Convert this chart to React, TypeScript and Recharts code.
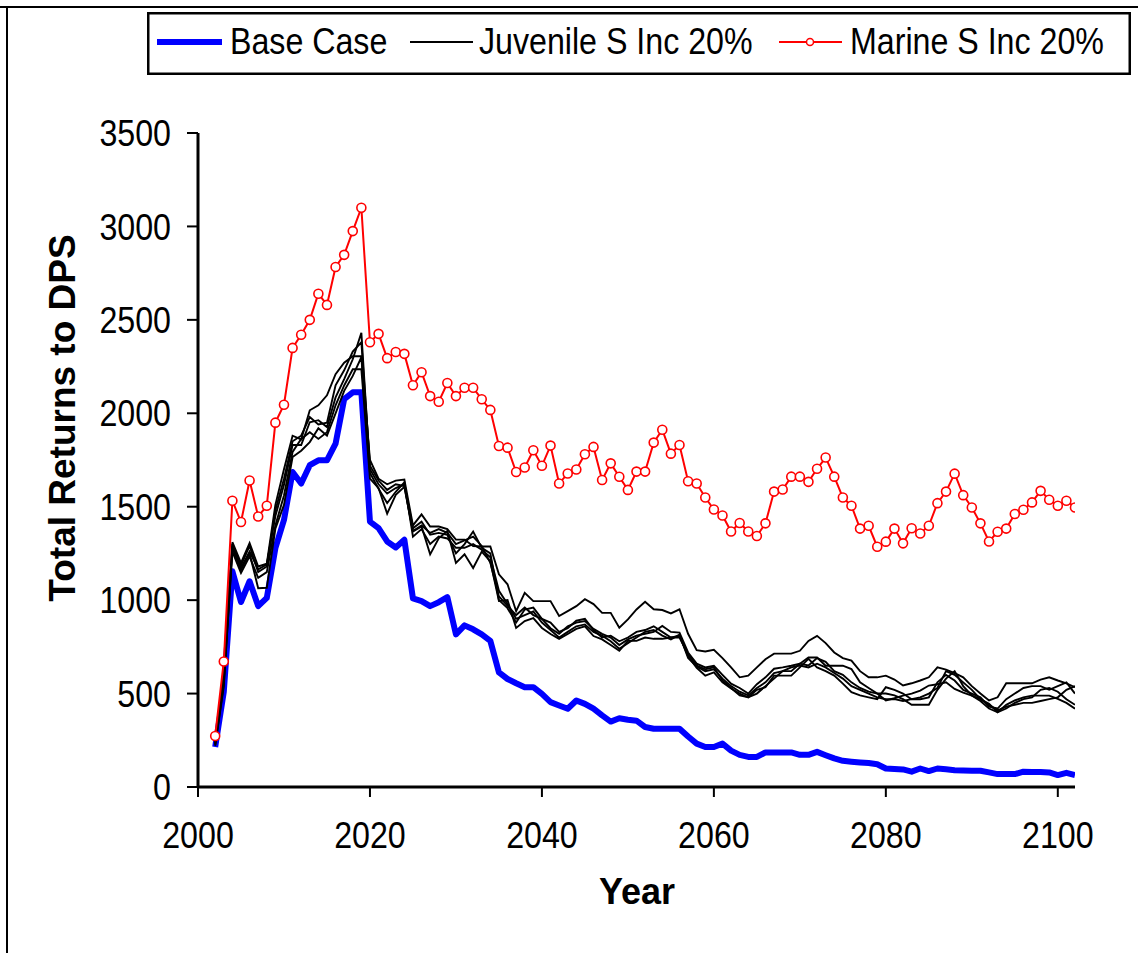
import React from 'react';
import { LineChart, Line, XAxis, YAxis, Legend, Label } from 'recharts';

const years: number[] = Array.from({ length: 101 }, (_, i) => 2002 + i);

const baseCase: number[] = [
  214, 510, 1154, 990, 1101, 968, 1012, 1278, 1429, 1686,
  1624, 1722, 1748, 1748, 1837, 2076, 2112, 2112, 1420, 1385,
  1314, 1282, 1323, 1009, 995, 968, 989, 1016, 817, 865,
  844, 817, 782, 613, 578, 555, 534, 534, 498, 454,
  436, 419, 463, 445, 419, 383, 350, 368, 360, 355,
  321, 312, 312, 312, 312, 270, 232, 214, 214, 232,
  195, 172, 161, 161, 185, 185, 185, 185, 172, 172,
  188, 170, 153, 140, 135, 131, 128, 122, 99, 96,
  94, 82, 99, 85, 99, 95, 90, 88, 87, 87,
  78, 69, 69, 69, 82, 80, 80, 78, 64, 76,
  64,
];

const juvenile1: number[] = [
  240, 600, 1310, 1200, 1305, 1180, 1195, 1510, 1700, 1880,
  1860, 2016, 2043, 2096, 2209, 2271, 2305, 2305, 1750, 1650,
  1620, 1640, 1645, 1400, 1459, 1394, 1394, 1380, 1324, 1324,
  1290, 1287, 1287, 1138, 1085, 941, 1039, 995, 995, 995,
  915, 941, 968, 1005, 979, 932, 932, 853, 897, 950,
  991, 951, 947, 929, 951, 820, 732, 725, 734, 690,
  640, 587, 596, 640, 684, 714, 714, 714, 729, 782,
  809, 770, 720, 690, 676, 620, 587, 587, 596, 575,
  543, 555, 570, 587, 640, 628, 610, 587, 540, 500,
  463, 480, 555, 555, 555, 555, 575, 587, 570, 555,
  534,
];

const juvenile2: number[] = [
  230, 570, 1290, 1172, 1260, 1165, 1191, 1450, 1617, 1830,
  1830, 1952, 1963, 1926, 2085, 2183, 2289, 2431, 1700, 1620,
  1570, 1600, 1620, 1385, 1420, 1350, 1360, 1350, 1250, 1300,
  1367, 1280, 1250, 1000, 957, 880, 950, 960, 900, 850,
  820, 860, 880, 888, 846, 820, 800, 760, 790, 810,
  820, 830, 862, 830, 826, 720, 660, 640, 649, 600,
  553, 530, 500, 550, 587, 633, 640, 649, 660, 693,
  693, 649, 649, 649, 631, 560, 530, 500, 463, 475,
  489, 500, 516, 543, 550, 560, 525, 505, 489, 470,
  445, 400, 440, 463, 480, 489, 489, 489, 472, 450,
  419,
];

const juvenile3: number[] = [
  225, 550, 1260, 1145, 1234, 1119, 1150, 1400, 1560, 1793,
  1863, 1899, 1863, 1899, 2043, 2149, 2236, 2236, 1650, 1600,
  1463, 1564, 1606, 1367, 1394, 1245, 1331, 1370, 1199, 1245,
  1172, 1260, 1207, 995, 1000, 851, 888, 904, 851, 819,
  793, 819, 846, 860, 808, 790, 760, 729, 782, 782,
  800, 793, 793, 800, 809, 700, 638, 596, 613, 560,
  527, 500, 480, 520, 534, 596, 596, 596, 640, 686,
  640, 620, 596, 553, 507, 490, 480, 470, 534, 520,
  500, 470, 470, 480, 560, 600, 570, 520, 500, 480,
  430, 420, 470, 500, 530, 540, 540, 520, 540, 560,
  500,
];

const juvenile4: number[] = [
  220, 540, 1280, 1160, 1250, 1064, 1066, 1383, 1510, 1766,
  1800, 1846, 1920, 1880, 2000, 2120, 2200, 2300, 1680, 1596,
  1520, 1580, 1630, 1340, 1380, 1300, 1340, 1330, 1280, 1280,
  1300, 1270, 1230, 1050, 980, 900, 920, 940, 880, 840,
  800, 830, 860, 870, 830, 810, 780, 740, 770, 800,
  830, 840, 810, 790, 815, 690, 645, 620, 630, 580,
  540, 510, 490, 530, 560, 610, 620, 620, 660, 650,
  690, 670, 620, 600, 560, 530, 510, 500, 500, 490,
  470, 440, 440, 440, 520, 580, 620, 540, 490, 460,
  420, 400, 420, 450, 470, 480, 520, 530, 510, 470,
  440,
];

const juvenile5: number[] = [
  235, 580, 1300, 1185, 1290, 1150, 1180, 1480, 1650, 1850,
  1880, 1980, 1940, 1950, 2150, 2230, 2330, 2380, 1720, 1640,
  1590, 1620, 1610, 1370, 1400, 1360, 1380, 1360, 1300, 1320,
  1340, 1290, 1200, 1020, 970, 920, 960, 920, 900, 880,
  830, 850, 890, 900, 840, 800, 810, 780, 800, 830,
  840, 860, 830, 800, 800, 710, 650, 630, 640, 570,
  530, 490, 480, 500, 540, 580, 620, 640, 650, 640,
  660, 640, 610, 580, 540, 520, 500, 480, 470, 470,
  460, 470, 480, 500, 530, 620, 600, 560, 520, 470,
  440, 410, 430, 440, 450, 450, 460, 470, 480, 520,
  540,
];

const marine: number[] = [
  273, 672, 1532, 1418, 1640, 1448, 1505, 1950, 2046, 2350,
  2420, 2500, 2640, 2580, 2783, 2848, 2975, 3100, 2380, 2425,
  2295, 2328, 2318, 2150, 2220, 2092, 2062, 2162, 2092, 2137,
  2137, 2075, 2018, 1825, 1816, 1686, 1710, 1802, 1719, 1827,
  1624, 1678, 1699, 1781, 1820, 1643, 1732, 1660, 1590, 1688,
  1688, 1843, 1912, 1784, 1830, 1636, 1624, 1549, 1485, 1453,
  1367, 1413, 1367, 1343, 1411, 1581, 1592, 1661, 1661, 1633,
  1703, 1763, 1661, 1549, 1505, 1383, 1398, 1286, 1313, 1383,
  1304, 1385, 1357, 1398, 1519, 1581, 1677, 1562, 1496, 1411,
  1314, 1366, 1383, 1461, 1484, 1523, 1585, 1537, 1505, 1532,
  1496,
];

const xTicks: number[] = [2000, 2020, 2040, 2060, 2080, 2100];
const yTicks: number[] = [0, 500, 1000, 1500, 2000, 2500, 3000, 3500];

const rows = years.map((year, i) => ({
  year,
  base: baseCase[i],
  juv1: juvenile1[i],
  juv2: juvenile2[i],
  juv3: juvenile3[i],
  juv4: juvenile4[i],
  juv5: juvenile5[i],
  marine: marine[i],
}));

const FONT = '"Liberation Sans", Arial, Helvetica, sans-serif';
const NARROW = 0.87;
const TICK_FS = 37;

const XTick = (props: any) => {
  const { x, y, payload } = props;
  return (
    <g transform={`translate(${x},${y})`}>
      <text
        transform={`scale(${NARROW},1)`}
        textAnchor="middle"
        dy="0.71em"
        fontFamily={FONT}
        fontSize={TICK_FS}
        fill="#000"
      >
        {payload.value}
      </text>
    </g>
  );
};

const YTick = (props: any) => {
  const { x, y, payload } = props;
  return (
    <g transform={`translate(${x},${y})`}>
      <text
        transform={`scale(${NARROW},1)`}
        textAnchor="end"
        dy="0.355em"
        fontFamily={FONT}
        fontSize={TICK_FS}
        fill="#000"
      >
        {payload.value}
      </text>
    </g>
  );
};

const LegendBox = () => (
  <svg width={984} height={63} style={{ display: 'block' }}>
    <rect x={1.25} y={1.25} width={981.5} height={60.5} fill="#fff" stroke="#000" strokeWidth={2.5} />
    <line x1={10} y1={30} x2={75} y2={30} stroke="#0000ff" strokeWidth={6} />
    <text x={83} y={42} transform={`translate(${83 * (1 - NARROW)},0) scale(${NARROW},1)`} fontFamily={FONT} fontSize={TICK_FS} fill="#000">
      Base Case
    </text>
    <line x1={263} y1={30} x2={326} y2={30} stroke="#000" strokeWidth={1.8} />
    <text x={332} y={42} transform={`translate(${332 * (1 - NARROW)},0) scale(${NARROW},1)`} fontFamily={FONT} fontSize={TICK_FS} fill="#000">
      Juvenile S Inc 20%
    </text>
    <line x1={632} y1={30} x2={695} y2={30} stroke="#ff0000" strokeWidth={2} />
    <circle cx={663} cy={30} r={3.5} stroke="#ff0000" strokeWidth={1.5} fill="#fff" />
    <text x={703} y={42} transform={`translate(${703 * (1 - NARROW)},0) scale(${NARROW},1)`} fontFamily={FONT} fontSize={TICK_FS} fill="#000">
      Marine S Inc 20%
    </text>
  </svg>
);

export default function App() {
  return (
    <div
      style={{
        position: 'absolute',
        left: 0,
        top: 0,
        width: 1138,
        height: 953,
        background: '#fff',
        overflow: 'hidden',
      }}
    >
      <div style={{ position: 'absolute', left: 0, top: 6, width: 1138, height: 2, background: '#000' }} />
      <div style={{ position: 'absolute', left: 6, top: 6, width: 2, height: 947, background: '#000' }} />
      <div style={{ position: 'absolute', left: 0, top: 0 }}>
        <LineChart
          width={1138}
          height={953}
          data={rows}
          margin={{ top: 133, right: 63, bottom: 46, left: 0 }}
        >
          <XAxis
            dataKey="year"
            type="number"
            domain={[2000, 2102]}
            ticks={xTicks}
            allowDataOverflow
            height={120}
            tickSize={10}
            tickMargin={25}
            axisLine={{ stroke: '#000', strokeWidth: 3 }}
            tickLine={{ stroke: '#000', strokeWidth: 2 }}
            tick={<XTick />}
          >
            <Label
              content={() => (
                <text
                  x={637}
                  y={904}
                  textAnchor="middle"
                  fontFamily={FONT}
                  fontWeight="bold"
                  fontSize={36}
                  fill="#000"
                >
                  Year
                </text>
              )}
            />
          </XAxis>
          <YAxis
            domain={[0, 3500]}
            ticks={yTicks}
            width={198}
            tickSize={11}
            tickMargin={16}
            axisLine={{ stroke: '#000', strokeWidth: 3 }}
            tickLine={{ stroke: '#000', strokeWidth: 2 }}
            tick={<YTick />}
          >
            <Label
              content={() => (
                <text
                  x={62}
                  y={418}
                  transform="rotate(-90 62 418)"
                  textAnchor="middle"
                  dominantBaseline="central"
                  fontFamily={FONT}
                  fontWeight="bold"
                  fontSize={37}
                  fill="#000"
                >
                  Total Returns to DPS
                </text>
              )}
            />
          </YAxis>
          <Legend
            layout="horizontal"
            verticalAlign="middle"
            wrapperStyle={{ top: 12, left: 147, width: 984, height: 63 }}
            content={() => <LegendBox />}
          />
          <Line dataKey="base" name="Base Case" stroke="#0000ff" strokeWidth={6} dot={false} strokeLinejoin="round" isAnimationActive={false} />
          <Line dataKey="juv1" name="Juvenile S Inc 20%" stroke="#000" strokeWidth={1.9} dot={false} isAnimationActive={false} />
          <Line dataKey="juv2" stroke="#000" strokeWidth={1.9} dot={false} isAnimationActive={false} />
          <Line dataKey="juv3" stroke="#000" strokeWidth={1.9} dot={false} isAnimationActive={false} />
          <Line dataKey="juv4" stroke="#000" strokeWidth={1.9} dot={false} isAnimationActive={false} />
          <Line dataKey="juv5" stroke="#000" strokeWidth={1.9} dot={false} isAnimationActive={false} />
          <Line
            dataKey="marine"
            name="Marine S Inc 20%"
            stroke="#ff0000"
            strokeWidth={2}
            dot={{ r: 4.5, stroke: '#ff0000', strokeWidth: 1.6, fill: '#fff' }}
            isAnimationActive={false}
          />
        </LineChart>
      </div>
    </div>
  );
}
